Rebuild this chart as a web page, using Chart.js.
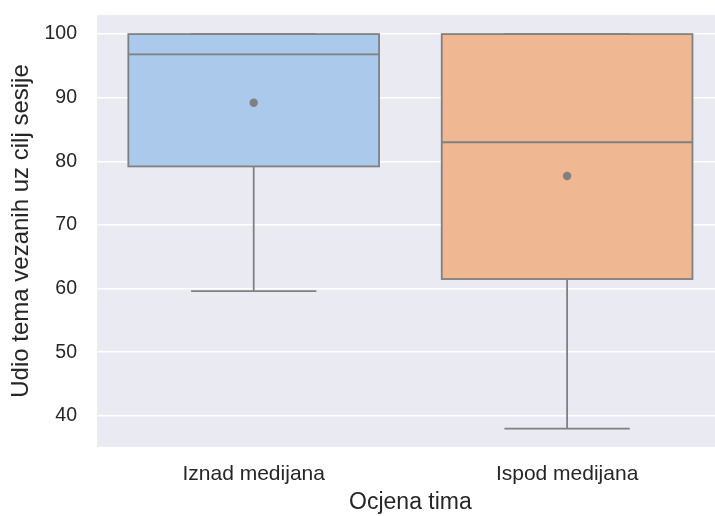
<!DOCTYPE html>
<html>
<head>
<meta charset="utf-8">
<script src="https://cdn.jsdelivr.net/npm/chart.js@4/dist/chart.umd.min.js"></script>
<style>
  html, body { margin: 0; padding: 0; background: #ffffff; overflow: hidden; }
  #wrap { width: 728px; height: 516px; position: relative; }
</style>
</head>
<body>
<div id="wrap"><canvas id="chart"></canvas></div>
<script>
// Box plot statistics per team-rating group
const categories   = ['Iznad medijana', 'Ispod medijana'];
const whiskerLow   = [59.6, 38.0];
const q1           = [79.2, 61.5];
const median       = [96.8, 83.0];
const q3           = [100, 100];
const whiskerHigh  = [100, 100];
const means        = [89.2, 77.7];
const yTicks       = [40, 50, 60, 70, 80, 90, 100];

const boxColors = ['#abc9ea', '#efb792'];
const lineColor = '#808080';
const textColor = '#262626';
const fontFamily = '"Liberation Sans", Arial, Helvetica, sans-serif';

// Grey panel behind the plotting area
const panelBackground = {
  id: 'panelBackground',
  beforeDraw(chart) {
    const { ctx, chartArea: a } = chart;
    ctx.save();
    ctx.fillStyle = '#eaeaf2';
    ctx.fillRect(a.left, a.top, a.right - a.left, a.bottom - a.top);
    ctx.restore();
  }
};

// Whiskers, caps, box outlines and median lines, positioned through the chart scales
const boxDetails = {
  id: 'boxDetails',
  afterDatasetDraw(chart, args) {
    if (args.index !== 0) return;
    const { ctx } = chart;
    const y = chart.scales.y;
    const meta = chart.getDatasetMeta(0);
    ctx.save();
    ctx.strokeStyle = lineColor;
    ctx.lineWidth = 1.8;
    ctx.lineCap = 'butt';
    meta.data.forEach((bar, i) => {
      const cx = bar.x;
      const half = bar.width / 2;
      const capHalf = half / 2;
      const seg = (x1, y1, x2, y2) => {
        ctx.beginPath(); ctx.moveTo(x1, y1); ctx.lineTo(x2, y2); ctx.stroke();
      };
      const yLo = y.getPixelForValue(whiskerLow[i]);
      const yHi = y.getPixelForValue(whiskerHigh[i]);
      const yQ1 = y.getPixelForValue(q1[i]);
      const yQ3 = y.getPixelForValue(q3[i]);
      // lower whisker + cap
      seg(cx, yQ1, cx, yLo);
      seg(cx - capHalf, yLo, cx + capHalf, yLo);
      // upper whisker + cap
      seg(cx, yQ3, cx, yHi);
      seg(cx - capHalf, yHi, cx + capHalf, yHi);
      // box outline, centred on the quartile edges
      ctx.strokeRect(cx - half, yQ3, 2 * half, yQ1 - yQ3);
      // median
      const yMed = y.getPixelForValue(median[i]);
      seg(cx - half, yMed, cx + half, yMed);
    });
    ctx.restore();
  }
};

new Chart(document.getElementById('chart'), {
  data: {
    labels: categories,
    datasets: [
      {
        type: 'bar',
        data: q1.map((v, i) => [v, q3[i]]),
        backgroundColor: boxColors,
        borderWidth: 0,
        borderSkipped: false,
        barPercentage: 0.8,
        categoryPercentage: 1.0,
        order: 2
      },
      {
        type: 'line',
        data: means,
        showLine: false,
        pointRadius: 4.2,
        pointBorderWidth: 0,
        pointBackgroundColor: lineColor,
        pointBorderColor: lineColor,
        order: 1
      }
    ]
  },
  options: {
    responsive: true,
    maintainAspectRatio: false,
    animation: false,
    devicePixelRatio: 1,
    layout: { padding: { top: 15, left: 0, right: 0, bottom: 0 } },
    plugins: {
      legend: { display: false },
      tooltip: { enabled: false }
    },
    scales: {
      x: {
        type: 'category',
        offset: true,
        grid: { display: false, drawTicks: false },
        border: { display: false },
        ticks: {
          color: textColor,
          padding: 15,
          font: { family: fontFamily, size: 21 }
        },
        title: {
          display: true,
          text: 'Ocjena tima',
          color: textColor,
          padding: { top: 0, bottom: 0 },
          font: { family: fontFamily, size: 23 }
        },
        afterFit(scale) {
          scale.height = 69;
          scale.paddingLeft = 0;
          scale.paddingRight = 0;
        }
      },
      y: {
        type: 'linear',
        min: 35.1,
        max: 103.0,
        grid: { color: '#ffffff', lineWidth: 1.5, drawTicks: false },
        border: { display: false },
        ticks: {
          color: textColor,
          padding: 20,
          font: { family: fontFamily, size: 19.5 }
        },
        afterBuildTicks(scale) {
          scale.ticks = yTicks.map(v => ({ value: v }));
        },
        title: {
          display: true,
          text: 'Udio tema vezanih uz cilj sesije',
          color: textColor,
          padding: { top: 7, bottom: 0 },
          font: { family: fontFamily, size: 24 }
        },
        afterFit(scale) {
          scale.width = 97;
          scale.paddingTop = 0;
          scale.paddingBottom = 0;
        }
      }
    }
  },
  plugins: [panelBackground, boxDetails]
});
</script>
</body>
</html>
